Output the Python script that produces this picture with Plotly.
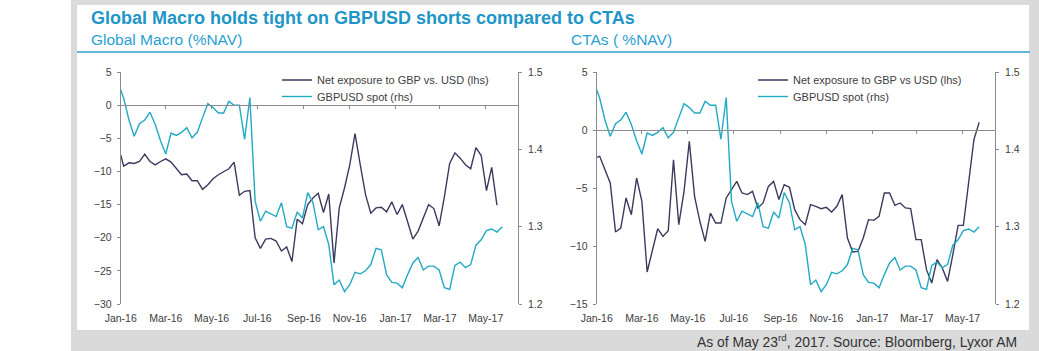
import plotly.graph_objects as go
import pandas as pd

W, H = 1039, 351

# ---------------- data ----------------
tick_dates = ["2016-01-01", "2016-03-01", "2016-05-01", "2016-07-01", "2016-09-01",
              "2016-11-01", "2017-01-01", "2017-03-01", "2017-05-01"]
tick_text = ["Jan-16", "Mar-16", "May-16", "Jul-16", "Sep-16",
             "Nov-16", "Jan-17", "Mar-17", "May-17"]

# Global Macro net exposure to GBP vs USD (%NAV), weekly
gm_net = [-7.5, -9.2, -8.7, -8.8, -8.5, -7.4, -8.5, -9.0, -8.5, -8.1,
          -8.6, -9.6, -10.5, -10.4, -11.4, -11.4, -12.7, -12.0, -11.1, -10.5,
          -10.0, -9.6, -8.6, -13.6, -13.0, -12.9, -20.0, -21.6, -20.2, -20.1,
          -20.5, -22.0, -21.4, -23.6, -17.2, -17.9, -15.0, -14.0, -13.3, -16.2,
          -13.4, -23.8, -15.5, -12.5, -9.0, -4.3, -9.0, -13.5, -16.3, -15.5,
          -15.4, -16.1, -14.6, -16.5, -15.0, -17.6, -20.2, -19.0, -17.0, -15.0,
          -15.6, -18.2, -13.8, -8.8, -7.2, -8.0, -9.0, -9.6, -6.4, -7.6,
          -12.9, -9.4, -15.1]

# CTA net exposure to GBP vs USD (%NAV), weekly
cta_net = [-2.36, -2.27, -3.42, -4.57, -8.79, -8.45, -5.86, -7.30, -4.14, -6.15,
           -12.24, -10.46, -8.51, -9.17, -8.68, -2.56, -8.16, -5.29, -0.98, -5.72,
           -7.87, -9.60, -7.16, -8.02, -8.02, -5.86, -5.14, -4.43, -5.43, -5.57,
           -5.29, -6.72, -6.29, -4.86, -4.43, -6.00, -4.71, -4.94, -6.87, -7.73,
           -8.16, -6.44, -6.58, -6.78, -6.67, -7.07, -6.58, -5.57, -9.31, -10.52,
           -10.46, -9.31, -7.73, -7.79, -7.44, -5.43, -5.43, -6.49, -6.29, -6.72,
           -6.78, -9.45, -9.45, -12.04, -13.19, -11.18, -11.90, -13.05, -10.75, -8.22,
           -8.22, -4.28, -0.83, 0.66]

# GBPUSD spot, weekly
gbpusd = [1.477, 1.466, 1.438, 1.417, 1.433, 1.438, 1.448, 1.432, 1.411, 1.394,
          1.421, 1.418, 1.422, 1.428, 1.415, 1.422, 1.441, 1.459, 1.454, 1.447,
          1.447, 1.462, 1.457, 1.457, 1.413, 1.467, 1.333, 1.307, 1.320, 1.316,
          1.313, 1.331, 1.300, 1.298, 1.319, 1.311, 1.344, 1.331, 1.296, 1.300,
          1.277, 1.225, 1.231, 1.216, 1.225, 1.241, 1.239, 1.243, 1.251, 1.272,
          1.270, 1.238, 1.228, 1.227, 1.221, 1.238, 1.253, 1.260, 1.244, 1.249,
          1.249, 1.244, 1.221, 1.219, 1.250, 1.254, 1.247, 1.251, 1.276, 1.283,
          1.295, 1.297, 1.293, 1.300]

x_range = ["2016-01-01", "2017-06-13"]
gm_range = [-30, 5]
cta_range = [-15, 5]
fx_range = [1.2, 1.5]


def weekly_dates(n):
    return [pd.Timestamp("2016-01-01")] + list(pd.date_range("2016-01-05", periods=n - 1, freq="7D"))


# ---------------- style ----------------
NAVY = "#3b3a5e"
CYAN = "#22a9c4"
AXIS = "#8c8c8c"
TXT = "#404040"
BLUE = "#1e96c8"
SUB = "#2a9fd0"
FONT = "Liberation Sans, Arial, sans-serif"
TF = dict(family=FONT, size=10.5, color=TXT)
LF = dict(family=FONT, size=11, color=TXT)


def px(x):
    return x / W


def py(y):
    return 1 - y / H


yd = [py(304), py(72)]
dom_l = [px(120.7), px(518)]
dom_r = [px(596.7), px(995)]

fig = go.Figure()

d_gm = weekly_dates(len(gm_net))
d_cta = weekly_dates(len(cta_net))
d_fx = weekly_dates(len(gbpusd))

fig.add_trace(go.Scatter(x=d_gm, y=gm_net, mode="lines", name="Net exposure to GBP vs. USD (lhs)",
                         line=dict(color=NAVY, width=1.4), xaxis="x", yaxis="y", legend="legend"))
fig.add_trace(go.Scatter(x=d_fx, y=gbpusd, mode="lines", name="GBPUSD spot (rhs)",
                         line=dict(color=CYAN, width=1.4), xaxis="x", yaxis="y2", legend="legend2"))
fig.add_trace(go.Scatter(x=d_cta, y=cta_net, mode="lines", name="Net exposure to GBP vs USD (lhs)",
                         line=dict(color=NAVY, width=1.4), xaxis="x2", yaxis="y3", legend="legend3"))
fig.add_trace(go.Scatter(x=d_fx, y=gbpusd, mode="lines", name="GBPUSD spot (rhs)",
                         line=dict(color=CYAN, width=1.4), xaxis="x2", yaxis="y4", legend="legend4"))
# invisible carriers for the zero-level axes
fig.add_trace(go.Scatter(x=d_gm, y=gm_net, mode="lines", opacity=0, showlegend=False,
                         hoverinfo="skip", xaxis="x3", yaxis="y"))
fig.add_trace(go.Scatter(x=d_cta, y=cta_net, mode="lines", opacity=0, showlegend=False,
                         hoverinfo="skip", xaxis="x4", yaxis="y3"))


def zero_pos(rng):
    return yd[0] + (0 - rng[0]) / (rng[1] - rng[0]) * (yd[1] - yd[0])


xcommon = dict(type="date", range=x_range, tickvals=tick_dates, ticktext=tick_text,
               showgrid=False, zeroline=False, showline=False, ticks="outside",
               ticklen=4, tickcolor="rgba(0,0,0,0)", tickfont=TF, automargin=False)
zcommon = dict(type="date", range=x_range, tickvals=tick_dates, showticklabels=False,
               showgrid=False, zeroline=False, showline=True, linecolor=AXIS, linewidth=1,
               ticks="outside", ticklen=3, tickcolor=AXIS, automargin=False)
ycommon = dict(showgrid=False, zeroline=False, showline=True, linecolor=AXIS, linewidth=1,
               ticks="outside", ticklen=3, tickcolor=AXIS, tickfont=TF, dtick=5,
               automargin=False, ticklabelstandoff=3)
y2common = dict(showgrid=False, zeroline=False, showline=True, linecolor=AXIS, linewidth=1,
                ticks="outside", ticklen=3, tickcolor=AXIS, tickfont=TF, dtick=0.1,
                tickformat=".1f", range=fx_range, side="right", automargin=False,
                ticklabelstandoff=4)


def leg(x, y):
    return dict(x=px(x), y=py(y), xanchor="left", yanchor="top", bgcolor="rgba(0,0,0,0)",
                borderwidth=0, font=LF, itemwidth=30)


fig.update_layout(
    template="none",
    width=W, height=H, margin=dict(l=0, r=0, t=0, b=0, pad=0, autoexpand=False),
    paper_bgcolor="white", plot_bgcolor="rgba(0,0,0,0)",
    showlegend=True,
    xaxis=dict(domain=dom_l, anchor="y", **xcommon),
    xaxis2=dict(domain=dom_r, anchor="y3", **xcommon),
    xaxis3=dict(domain=dom_l, overlaying="x", anchor="free", position=zero_pos(gm_range), **zcommon),
    xaxis4=dict(domain=dom_r, overlaying="x2", anchor="free", position=zero_pos(cta_range), **zcommon),
    yaxis=dict(domain=yd, anchor="x", range=gm_range, **ycommon),
    yaxis2=dict(overlaying="y", anchor="x", **y2common),
    yaxis3=dict(domain=yd, anchor="x2", range=cta_range, **ycommon),
    yaxis4=dict(overlaying="y3", anchor="x2", **y2common),
    legend=leg(277, 65.5),
    legend2=leg(277, 82),
    legend3=leg(753, 65.5),
    legend4=leg(753, 82),
    shapes=[
        dict(type="rect", xref="paper", yref="paper", x0=px(71), x1=1, y0=0, y1=1,
             fillcolor="#dadada", line=dict(width=0), layer="below"),
        dict(type="rect", xref="paper", yref="paper", x0=px(77), x1=px(1029), y0=py(330), y1=py(5),
             fillcolor="white", line=dict(width=0), layer="below"),
        dict(type="line", xref="paper", yref="paper", x0=px(77), x1=px(1030), y0=py(52), y1=py(52),
             line=dict(color=SUB, width=1.5)),
    ],
    annotations=[
        dict(text="<b>Global Macro holds tight on GBPUSD shorts compared to CTAs</b>",
             xref="paper", yref="paper", x=px(89), y=py(18), xanchor="left", yanchor="middle",
             showarrow=False, font=dict(family=FONT, size=18, color=BLUE)),
        dict(text="Global Macro (%NAV)", xref="paper", yref="paper", x=px(89), y=py(39),
             xanchor="left", yanchor="middle", showarrow=False,
             font=dict(family=FONT, size=15.5, color=SUB)),
        dict(text="CTAs ( %NAV)", xref="paper", yref="paper", x=px(569), y=py(39),
             xanchor="left", yanchor="middle", showarrow=False,
             font=dict(family=FONT, size=15.5, color=SUB)),
        dict(text="As of May 23<sup>rd</sup>, 2017. Source: Bloomberg, Lyxor AM",
             xref="paper", yref="paper", x=px(1019), y=py(341), xanchor="right", yanchor="middle",
             showarrow=False, font=dict(family=FONT, size=13.9, color="#333333")),
    ],
)

fig.write_html("out.html")
